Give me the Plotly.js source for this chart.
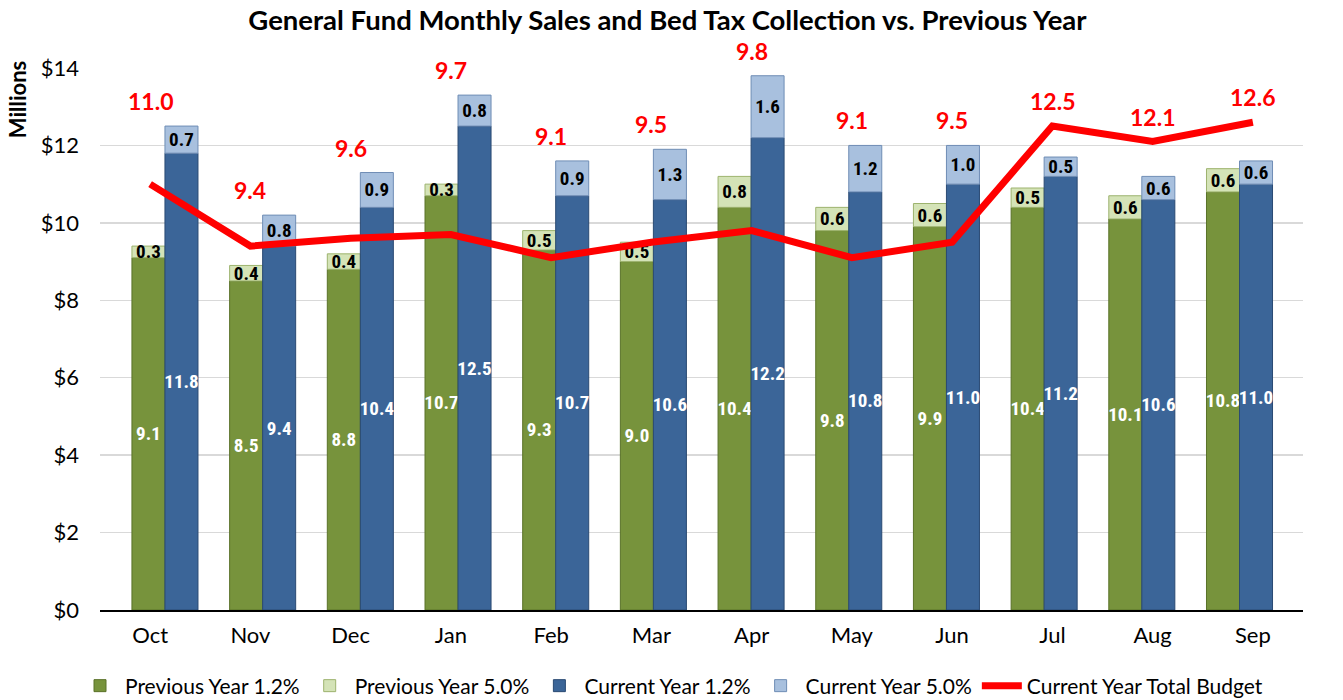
<!DOCTYPE html>
<html>
<head>
<meta charset="utf-8">
<script src="https://cdn.plot.ly/plotly-3.0.1.min.js"></script>
<style>html,body{margin:0;padding:0;background:#fff;}#chart{width:1343px;height:700px;}</style>
</head>
<body>
<div id="chart"></div>
<script>
const months = ["Oct","Nov","Dec","Jan","Feb","Mar","Apr","May","Jun","Jul","Aug","Sep"];
const prevBase = [9.1, 8.5, 8.8, 10.7, 9.3, 9.0, 10.4, 9.8, 9.9, 10.4, 10.1, 10.8];
const prevGrowth = [0.3, 0.4, 0.4, 0.3, 0.5, 0.5, 0.8, 0.6, 0.6, 0.5, 0.6, 0.6];
const curBase = [11.8, 9.4, 10.4, 12.5, 10.7, 10.6, 12.2, 10.8, 11.0, 11.2, 10.6, 11.0];
const curGrowth = [0.7, 0.8, 0.9, 0.8, 0.9, 1.3, 1.6, 1.2, 1.0, 0.5, 0.6, 0.6];
const budget = [11.0, 9.4, 9.6, 9.7, 9.1, 9.5, 9.8, 9.1, 9.5, 12.5, 12.1, 12.6];
const seriesNames = ["Previous Year 1.2%","Previous Year 5.0%","Current Year 1.2%","Current Year 5.0%","Current Year Total Budget"];
const yTickVals = [0, 2, 4, 6, 8, 10, 12, 14];
const yTickText = yTickVals.map(v => '$' + v);

const idx = months.map((m, i) => i);
const fmt = a => a.map(v => v.toFixed(1));
const BW = 0.338;
const narrow = "'Liberation Sans Narrow', 'Arial Narrow', 'Roboto Condensed', Roboto, sans-serif";
const mainFont = 'Lato, sans-serif';

function barTrace(name, y, base, offset, fill, edge, txtColor) {
  const t = {
    type: 'bar', name: name, x: idx, y: y, xaxis: 'x', yaxis: 'y',
    offset: offset, width: BW,
    marker: {color: fill, line: {color: edge, width: 1}},
    text: fmt(y), textposition: 'inside', insidetextanchor: 'middle',
    textangle: 0, constraintext: 'none',
    textfont: {family: narrow, size: 19, color: txtColor, weight: 'bold'},
    hoverinfo: 'skip'
  };
  if (base) t.base = base;
  return t;
}

const traces = [
  barTrace(seriesNames[0], prevBase, null, -BW, '#77933C', '#5A7229', '#ffffff'),
  barTrace(seriesNames[1], prevGrowth, prevBase, -BW, '#D4E3B7', '#9DB36E', '#000000'),
  barTrace(seriesNames[2], curBase, null, 0, '#3B6598', '#2A4A73', '#ffffff'),
  barTrace(seriesNames[3], curGrowth, curBase, 0, '#A8C0DE', '#6F8DB5', '#000000'),
  {
    type: 'scatter', mode: 'lines', name: seriesNames[4], x: months, y: budget,
    xaxis: 'x2', yaxis: 'y',
    line: {color: '#FF0000', width: 7}, hoverinfo: 'skip'
  }
];

const annotations = months.map((m, i) => ({
  x: m, xref: 'x2', yref: 'y',
  y: Math.max(prevBase[i] + prevGrowth[i], curBase[i] + curGrowth[i], budget[i]),
  yanchor: 'bottom', yshift: 9, showarrow: false,
  text: budget[i].toFixed(1),
  font: {family: mainFont, size: 23, color: '#FF0000', weight: 'bold'}
}));
annotations.push({
  xref: 'paper', yref: 'paper', x: -0.068, y: 0.941, xanchor: 'center', yanchor: 'middle',
  textangle: -90, showarrow: false, text: 'Millions',
  font: {family: mainFont, size: 22, color: '#000', weight: 'bold'}
});

const layout = {
  width: 1343, height: 700,
  margin: {l: 100, r: 40, t: 68, b: 90},
  paper_bgcolor: '#fff', plot_bgcolor: '#fff',
  title: {
    text: 'General Fund Monthly Sales and Bed Tax Collection vs. Previous Year',
    font: {family: mainFont, size: 27.5, color: '#000', weight: 'bold'},
    x: 0.497, xanchor: 'center', yref: 'container', y: 0.971, yanchor: 'middle'
  },
  barmode: 'overlay',
  showlegend: true,
  legend: {
    orientation: 'h', xref: 'container', x: 0.5, xanchor: 'center',
    yref: 'container', y: 0.02, yanchor: 'middle',
    font: {family: mainFont, size: 21, color: '#000'},
    traceorder: 'normal', itemwidth: 40
  },
  xaxis: {
    range: [-0.665, 11.65], showticklabels: false, showgrid: false,
    zeroline: false, showline: false, ticks: ''
  },
  xaxis2: {
    overlaying: 'x', side: 'bottom', type: 'category',
    range: [-0.5, 11.5], showgrid: false, zeroline: false,
    showline: true, linecolor: '#000', linewidth: 1.5, ticks: '',
    tickfont: {family: mainFont, size: 22, color: '#000'},
    ticklabelstandoff: 5
  },
  yaxis: {
    range: [0, 14], tickmode: 'array', tickvals: yTickVals, ticktext: yTickText,
    showgrid: true, gridcolor: '#D9D9D9', gridwidth: 1.5, zeroline: false,
    showline: false, ticks: '',
    tickfont: {family: mainFont, size: 22, color: '#000'},
    ticklabelstandoff: 20
  },
  annotations: annotations
};

Plotly.newPlot('chart', traces, layout, {staticPlot: true, displayModeBar: false});
</script>
</body>
</html>
